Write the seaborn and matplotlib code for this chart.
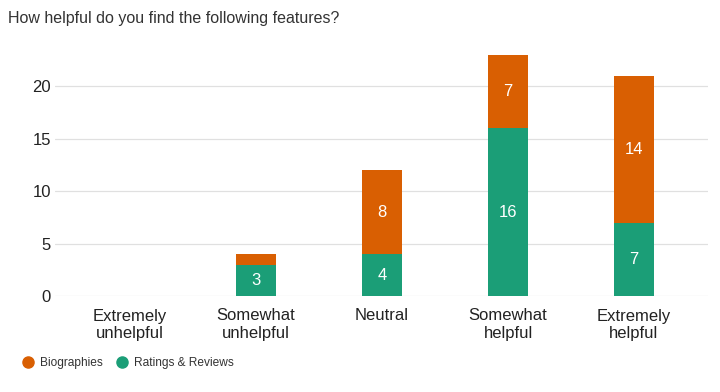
import pandas as pd
import seaborn as sns
import matplotlib.pyplot as plt
from matplotlib.lines import Line2D

# datos
categories = ['Extremely\nunhelpful', 'Somewhat\nunhelpful', 'Neutral', 'Somewhat\nhelpful', 'Extremely\nhelpful']
ratings = [0, 3, 4, 16, 7]
biographies = [0, 1, 8, 7, 14]

green = '#1b9e77'
orange = '#d95f02'

df = pd.DataFrame({'cat': categories, 'ratings': ratings, 'bios': biographies})

sns.set_style('white')
plt.rcParams['font.family'] = ['Liberation Sans', 'DejaVu Sans']

fig = plt.figure(figsize=(7.2, 3.92), dpi=100)
ax = fig.add_axes([55 / 720, 1 - 296 / 392, 653 / 720, 258 / 392])

sns.barplot(data=df, x='cat', y='ratings', color=green, width=0.32, ax=ax,
            saturation=1, linewidth=0)
sns.barplot(data=df, x='cat', y='bios', color=orange, width=0.32, ax=ax,
            saturation=1, linewidth=0, bottom=df['ratings'])

# etiquetas dentro de las barras (solo si el segmento es grande)
for cont, vals in zip(ax.containers, [ratings, biographies]):
    ax.bar_label(cont, labels=[str(v) if v >= 2 else '' for v in vals],
                 label_type='center', color='white', fontsize=12)

ax.set_xlim(-0.5 - 12 / 126, 4.5 + 11 / 126)
ax.set_ylim(0, 24.6)
ax.set_yticks([0, 5, 10, 15, 20])
ax.yaxis.grid(True, color='#e0e0e0', linewidth=0.9)
ax.set_axisbelow(True)
sns.despine(ax=ax, left=True, bottom=True, top=True, right=True)
ax.set_xlabel('')
ax.set_ylabel('')
ax.tick_params(axis='both', length=0, labelsize=12, labelcolor='#222222')
ax.tick_params(axis='y', pad=3)
ax.tick_params(axis='x', pad=9)

fig.text(8 / 720, 1 - 19 / 392, 'How helpful do you find the following features?',
         fontsize=11.5, color='#333333', va='center')

handles = [Line2D([], [], marker='o', linestyle='', color=orange, markersize=8),
           Line2D([], [], marker='o', linestyle='', color=green, markersize=8)]
fig.legend(handles, ['Biographies', 'Ratings & Reviews'], loc='center left',
           bbox_to_anchor=(22 / 720, 1 - 363 / 392), ncol=2, frameon=False,
           fontsize=8.6, handletextpad=0.5, columnspacing=1.1, labelcolor='#333333',
           handlelength=1.0, borderaxespad=0, borderpad=0)

fig.savefig('out.png', dpi=100)
